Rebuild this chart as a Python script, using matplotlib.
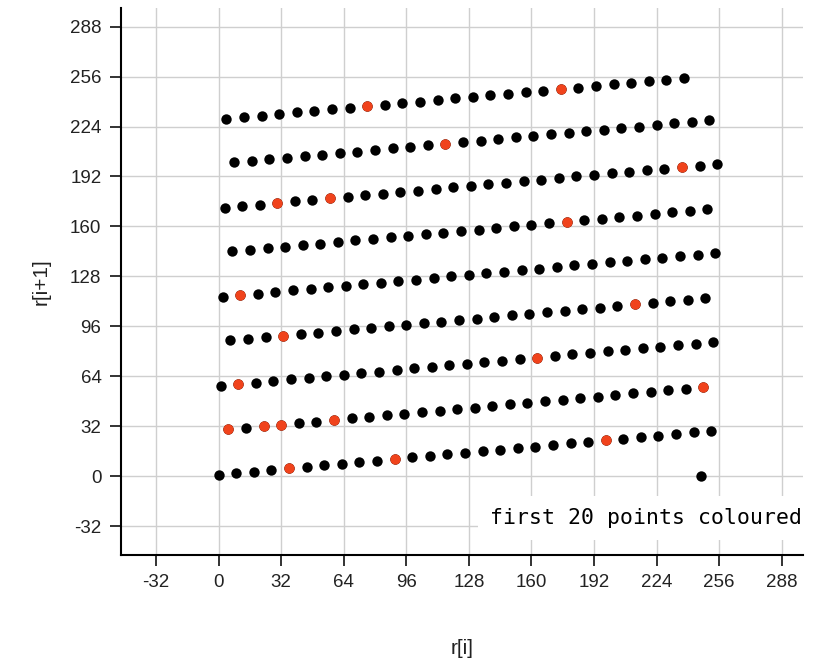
import matplotlib
matplotlib.use('Agg')
import matplotlib.pyplot as plt

# r[i] takes every value 0..255 once; r_next[k] is the value that follows k
r_i = [
    0, 1, 2, 3, 4, 5, 6, 7, 8, 9, 10, 11, 12, 13, 14, 15,
    16, 17, 18, 19, 20, 21, 22, 23, 24, 25, 26, 27, 28, 29, 30, 31,
    32, 33, 34, 35, 36, 37, 38, 39, 40, 41, 42, 43, 44, 45, 46, 47,
    48, 49, 50, 51, 52, 53, 54, 55, 56, 57, 58, 59, 60, 61, 62, 63,
    64, 65, 66, 67, 68, 69, 70, 71, 72, 73, 74, 75, 76, 77, 78, 79,
    80, 81, 82, 83, 84, 85, 86, 87, 88, 89, 90, 91, 92, 93, 94, 95,
    96, 97, 98, 99, 100, 101, 102, 103, 104, 105, 106, 107, 108, 109, 110, 111,
    112, 113, 114, 115, 116, 117, 118, 119, 120, 121, 122, 123, 124, 125, 126, 127,
    128, 129, 130, 131, 132, 133, 134, 135, 136, 137, 138, 139, 140, 141, 142, 143,
    144, 145, 146, 147, 148, 149, 150, 151, 152, 153, 154, 155, 156, 157, 158, 159,
    160, 161, 162, 163, 164, 165, 166, 167, 168, 169, 170, 171, 172, 173, 174, 175,
    176, 177, 178, 179, 180, 181, 182, 183, 184, 185, 186, 187, 188, 189, 190, 191,
    192, 193, 194, 195, 196, 197, 198, 199, 200, 201, 202, 203, 204, 205, 206, 207,
    208, 209, 210, 211, 212, 213, 214, 215, 216, 217, 218, 219, 220, 221, 222, 223,
    224, 225, 226, 227, 228, 229, 230, 231, 232, 233, 234, 235, 236, 237, 238, 239,
    240, 241, 242, 243, 244, 245, 246, 247, 248, 249, 250, 251, 252, 253, 254, 255,
]
r_next = [
    1, 58, 115, 172, 229, 30, 87, 144, 201, 2, 59, 116, 173, 230, 31, 88,
    145, 202, 3, 60, 117, 174, 231, 32, 89, 146, 203, 4, 61, 118, 175, 232,
    33, 90, 147, 204, 5, 62, 119, 176, 233, 34, 91, 148, 205, 6, 63, 120,
    177, 234, 35, 92, 149, 206, 7, 64, 121, 178, 235, 36, 93, 150, 207, 8,
    65, 122, 179, 236, 37, 94, 151, 208, 9, 66, 123, 180, 237, 38, 95, 152,
    209, 10, 67, 124, 181, 238, 39, 96, 153, 210, 11, 68, 125, 182, 239, 40,
    97, 154, 211, 12, 69, 126, 183, 240, 41, 98, 155, 212, 13, 70, 127, 184,
    241, 42, 99, 156, 213, 14, 71, 128, 185, 242, 43, 100, 157, 214, 15, 72,
    129, 186, 243, 44, 101, 158, 215, 16, 73, 130, 187, 244, 45, 102, 159, 216,
    17, 74, 131, 188, 245, 46, 103, 160, 217, 18, 75, 132, 189, 246, 47, 104,
    161, 218, 19, 76, 133, 190, 247, 48, 105, 162, 219, 20, 77, 134, 191, 248,
    49, 106, 163, 220, 21, 78, 135, 192, 249, 50, 107, 164, 221, 22, 79, 136,
    193, 250, 51, 108, 165, 222, 23, 80, 137, 194, 251, 52, 109, 166, 223, 24,
    81, 138, 195, 252, 53, 110, 167, 224, 25, 82, 139, 196, 253, 54, 111, 168,
    225, 26, 83, 140, 197, 254, 55, 112, 169, 226, 27, 84, 141, 198, 255, 56,
    113, 170, 227, 28, 85, 142, 199, 0, 57, 114, 171, 228, 29, 86, 143, 200,
]

# the first 20 pairs of the sequence (drawn in red)
first_x = [10, 59, 36, 5, 30, 175, 248, 57, 178, 163,
           76, 237, 198, 23, 32, 33, 90, 11, 116, 213]
first_y = [59, 36, 5, 30, 175, 248, 57, 178, 163, 76,
           237, 198, 23, 32, 33, 90, 11, 116, 213, 110]

ticks = [-32, 0, 32, 64, 96, 128, 160, 192, 224, 256, 288]

plt.rcParams['font.family'] = ['Liberation Sans', 'DejaVu Sans']
plt.rcParams['axes.unicode_minus'] = False

fig = plt.figure(figsize=(8.17, 6.58), dpi=100)
ax = fig.add_axes([0.148, 0.1565, 0.835, 0.8315])

ax.scatter(r_i, r_next, s=56, color='black', linewidths=0, zorder=3)
ax.scatter(first_x, first_y, s=56, color='#f0431c', linewidths=0, zorder=4)

ax.set_xlim(-50, 299)
ax.set_ylim(-50.5, 300)
ax.set_xticks(ticks)
ax.set_yticks(ticks)
ax.grid(True, color='#cfcfcf', linewidth=1.0, zorder=0)
ax.set_axisbelow(True)

for side in ('top', 'right'):
    ax.spines[side].set_visible(False)
for side in ('left', 'bottom'):
    ax.spines[side].set_linewidth(1.5)
ax.tick_params(length=8, width=1.3, labelsize=13.5, colors='#222222', pad=6)

ax.set_xlabel('r[i]', fontsize=15, labelpad=34, color='#222222')
ax.set_ylabel('r[i+1]', fontsize=15, labelpad=14, color='#222222')

ax.text(0.541, 0.068, 'first 20 points coloured', transform=ax.transAxes,
        family='DejaVu Sans Mono', fontsize=15.5, va='center', ha='left',
        zorder=5, clip_on=False,
        bbox=dict(facecolor='white', edgecolor='none', boxstyle='square,pad=0.55'))

fig.savefig('out.png', dpi=100)
